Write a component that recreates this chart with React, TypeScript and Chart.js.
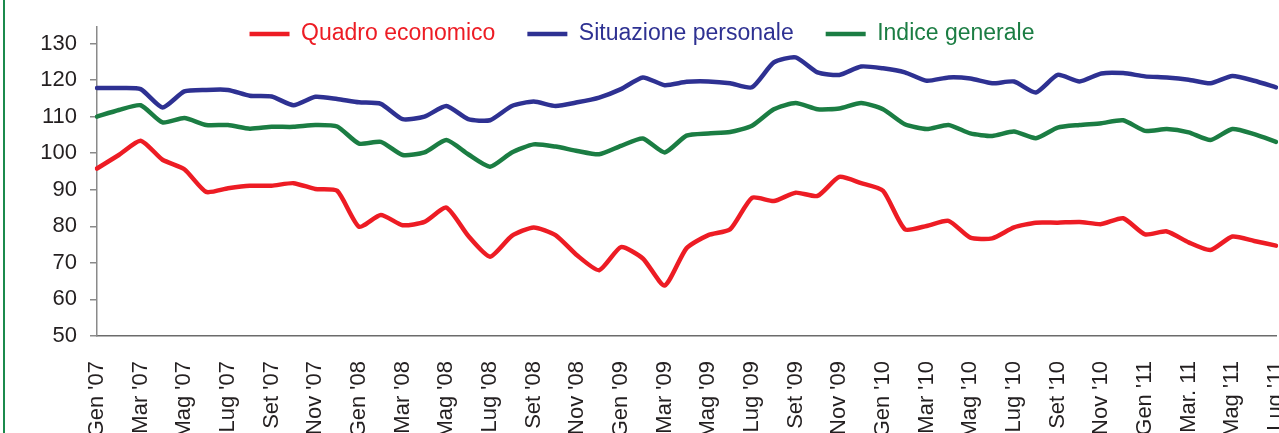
import React, { useEffect, useRef } from 'react';
import { Chart, registerables } from 'chart.js';

Chart.register(...registerables);

// ---------- data ----------
const categories = [
  "Gen '07", "Feb '07", "Mar '07", "Apr '07", "Mag '07", "Giu '07", "Lug '07", "Ago '07", "Set '07", "Ott '07", "Nov '07", "Dic '07",
  "Gen '08", "Feb '08", "Mar '08", "Apr '08", "Mag '08", "Giu '08", "Lug '08", "Ago '08", "Set '08", "Ott '08", "Nov '08", "Dic '08",
  "Gen '09", "Feb '09", "Mar '09", "Apr '09", "Mag '09", "Giu '09", "Lug '09", "Ago '09", "Set '09", "Ott '09", "Nov '09", "Dic '09",
  "Gen '10", "Feb '10", "Mar '10", "Apr '10", "Mag '10", "Giu '10", "Lug '10", "Ago '10", "Set '10", "Ott '10", "Nov '10", "Dic '10",
  "Gen '11", "Feb '11", "Mar. 11", "Apr '11", "Mag '11", "Giu '11", "Lug '11",
];

const quadroEconomico = [
  95.8, 99.5, 103.4, 98.2, 95.6, 89.4, 90.4, 91.1, 91.1, 91.8, 90.2, 89.7,
  79.9, 83.1, 80.3, 81.2, 85.1, 77.4, 71.7, 77.4, 79.7, 77.6, 72.0, 68.0,
  74.3, 71.2, 63.8, 74.0, 77.6, 79.2, 87.8, 86.9, 89.2, 88.3, 93.5, 91.8,
  89.7, 79.2, 80.1, 81.5, 76.9, 76.7, 79.7, 81.0, 81.0, 81.2, 80.6, 82.2,
  77.8, 78.6, 75.6, 73.5, 77.2, 76.0, 74.7,
];

const situazionePersonale = [
  117.8, 117.8, 117.5, 112.5, 116.9, 117.3, 117.3, 115.7, 115.5, 113.1, 115.4, 114.8,
  113.9, 113.5, 109.3, 110.0, 112.9, 109.3, 109.0, 112.9, 114.1, 112.9, 113.9, 115.2,
  117.5, 120.7, 118.6, 119.5, 119.6, 119.1, 118.0, 124.8, 126.2, 122.1, 121.4, 123.7,
  123.2, 122.1, 119.8, 120.7, 120.4, 119.1, 119.6, 116.6, 121.4, 119.6, 121.8, 121.9,
  121.0, 120.7, 120.1, 119.1, 121.1, 119.8, 118.0,
];

const indiceGenerale = [
  110.0, 111.8, 113.1, 108.4, 109.6, 107.7, 107.7, 106.7, 107.2, 107.2, 107.7, 107.3,
  102.6, 103.1, 99.5, 100.2, 103.6, 99.7, 96.3, 100.2, 102.4, 101.8, 100.6, 99.7,
  102.0, 104.0, 100.2, 104.8, 105.4, 105.8, 107.5, 112.0, 113.7, 112.0, 112.2, 113.7,
  112.0, 107.9, 106.6, 107.7, 105.4, 104.7, 105.9, 104.1, 107.0, 107.7, 108.2, 109.0,
  106.1, 106.6, 105.7, 103.6, 106.6, 105.2, 103.1,
];

const yTicks = [50, 60, 70, 80, 90, 100, 110, 120, 130];

const seriesNames = ['Quadro economico', 'Situazione personale', 'Indice generale'];
const seriesColors = ['#ED1C24', '#2E3192', '#1B7D43'];

// ---------- layout constants ----------
const W = 1279;
const H = 433;
const LEGEND_TOP = -9.5;
const LEGEND_BOTTOM = 52;

const legendPlacement = {
  id: 'legendPlacement',
  beforeUpdate(chart: any) {
    const lg = chart.legend;
    if (lg && !lg.__fitPatched) {
      const orig = lg.fit;
      lg.fit = function () {
        orig.call(this);
        this.height = 0;
      };
      lg.__fitPatched = true;
    }
  },
  afterLayout(chart: any) {
    const lg = chart.legend;
    if (lg) {
      lg.top = LEGEND_TOP;
      lg.bottom = LEGEND_BOTTOM;
      lg.height = LEGEND_BOTTOM - LEGEND_TOP;
      lg.left = 4;
      lg.right = W + 1;
      lg.width = W - 3;
    }
  },
};

export default function App() {
  const ref = useRef<HTMLCanvasElement>(null);

  useEffect(() => {
    document.body.style.margin = '0';
    const canvas = ref.current!;
    const series = [quadroEconomico, situazionePersonale, indiceGenerale];
    const chart = new Chart(canvas, {
      type: 'line',
      data: {
        labels: categories,
        datasets: series.map((d, i) => ({
          label: seriesNames[i],
          data: d,
          borderColor: seriesColors[i],
          backgroundColor: seriesColors[i],
          borderWidth: 4.5,
          pointRadius: 0,
          pointHoverRadius: 0,
          tension: 0.2,
          borderJoinStyle: 'round' as const,
          borderCapStyle: 'round' as const,
          fill: false,
        })),
      },
      options: {
        responsive: false,
        animation: false,
        devicePixelRatio: 1,
        layout: { padding: { top: 27, left: 0, right: 3, bottom: 0 } },
        plugins: {
          tooltip: { enabled: false },
          legend: {
            display: true,
            position: 'top',
            align: 'center',
            labels: {
              usePointStyle: true,
              pointStyle: 'line',
              pointStyleWidth: 40,
              padding: 32,
              font: { family: '"Liberation Sans", Arial, sans-serif', size: 23 },
              generateLabels(c: any) {
                const items = (Chart as any).defaults.plugins.legend.labels.generateLabels(c);
                return items.map((it: any, i: number) => ({
                  ...it,
                  fontColor: seriesColors[i],
                  strokeStyle: seriesColors[i],
                  lineWidth: 4.5,
                  lineCap: 'butt',
                  pointStyle: 'line',
                }));
              },
            },
          },
        },
        scales: {
          x: {
            type: 'category',
            offset: false,
            grid: { display: false, drawTicks: false },
            border: { display: true, color: '#6b6b6b', width: 1.5 },
            ticks: {
              autoSkip: false,
              maxRotation: 90,
              minRotation: 90,
              padding: 25,
              color: '#231F20',
              font: { family: '"Liberation Sans", Arial, sans-serif', size: 22 },
              callback: (_v: any, idx: number) => (idx % 2 === 0 ? categories[idx] : ''),
            },
            afterFit(scale: any) {
              scale.height = 97;
              scale.paddingLeft = 0;
              scale.paddingRight = 0;
            },
          },
          y: {
            type: 'linear',
            min: 50,
            max: 134.5,
            grid: {
              display: true,
              drawOnChartArea: false,
              drawTicks: true,
              tickLength: 7,
              color: '#8a8a8a',
              lineWidth: 1.5,
            },
            border: { display: true, color: '#8a8a8a', width: 1.5 },
            ticks: {
              padding: 13,
              color: '#231F20',
              font: { family: '"Liberation Sans", Arial, sans-serif', size: 22 },
            },
            afterBuildTicks(scale: any) {
              scale.ticks = yTicks.map((v) => ({ value: v }));
            },
            afterFit(scale: any) {
              scale.width = 97;
              scale.paddingTop = 0;
              scale.paddingBottom = 0;
            },
          },
        },
      },
      plugins: [legendPlacement],
    });
    return () => chart.destroy();
  }, []);

  return (
    <div style={{ position: 'fixed', left: 0, top: 0, width: W, height: H, background: '#ffffff', overflow: 'hidden' }}>
      <canvas ref={ref} width={W} height={H} style={{ position: 'absolute', left: 0, top: 0, width: W, height: H }} />
      <div style={{ position: 'absolute', left: 3, top: 0, width: 2, height: H, background: '#1B8A4C' }} />
    </div>
  );
}
